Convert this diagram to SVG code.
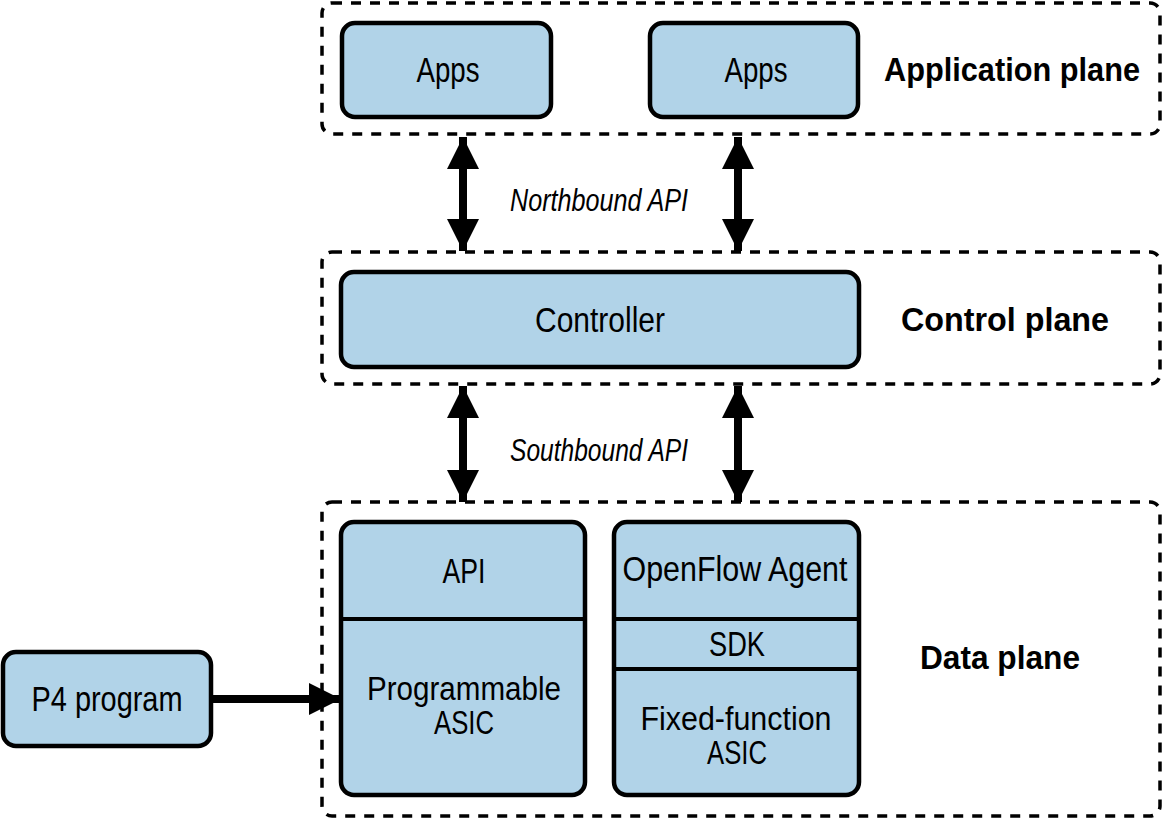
<svg xmlns="http://www.w3.org/2000/svg" width="1164" height="820" viewBox="0 0 1164 820">
<style>
.plane{fill:none;stroke:#000;stroke-width:3.5;stroke-dasharray:10 9}
.box{fill:#b1d3e8;stroke:#000;stroke-width:4.5}
.div{stroke:#000;stroke-width:4}
.t{font-family:"Liberation Sans",Arial,sans-serif;font-size:35px;fill:#000;text-anchor:middle}
.m{font-size:33.5px}
.b{font-family:"Liberation Sans",Arial,sans-serif;font-size:34px;font-weight:bold;fill:#000;text-anchor:middle}
.i{font-family:"Liberation Sans",Arial,sans-serif;font-size:32px;font-style:italic;fill:#000;text-anchor:middle}
.shaft{stroke:#000;stroke-width:8}
</style>
<defs>
<marker id="ah" viewBox="0 0 10 10" refX="10" refY="5" markerWidth="4" markerHeight="4.25" orient="auto-start-reverse" markerUnits="strokeWidth">
<path d="M0,0 L10,5 L0,10 Z" fill="#000"/>
</marker>
</defs>
<g id="application-plane">
<rect class="plane" x="322" y="3" width="838" height="131" rx="10"/>
<text class="b" x="1012" y="81" textLength="256" lengthAdjust="spacingAndGlyphs">Application plane</text>
</g>
<g id="apps1">
<rect class="box" x="342" y="23" width="209" height="94" rx="13"/>
<text class="t" x="448" y="82" textLength="63" lengthAdjust="spacingAndGlyphs">Apps</text>
</g>
<g id="apps2">
<rect class="box" x="650" y="23" width="208" height="94" rx="13"/>
<text class="t" x="756" y="82" textLength="63" lengthAdjust="spacingAndGlyphs">Apps</text>
</g>
<g id="control-plane">
<rect class="plane" x="322" y="252" width="838" height="132" rx="10"/>
<text class="b" x="1005" y="331" textLength="208" lengthAdjust="spacingAndGlyphs">Control plane</text>
</g>
<g id="controller">
<rect class="box" x="341" y="272" width="518" height="95" rx="13"/>
<text class="t" x="600" y="332" textLength="130" lengthAdjust="spacingAndGlyphs">Controller</text>
</g>
<g id="data-plane">
<rect class="plane" x="322" y="502" width="838" height="314" rx="10"/>
<text class="b" x="1000" y="669" textLength="160" lengthAdjust="spacingAndGlyphs">Data plane</text>
</g>
<g id="programmable-asic">
<rect class="box" x="341" y="522" width="244" height="273" rx="13"/>
<line class="div" x1="343" y1="619" x2="583" y2="619"/>
<text class="t" x="464" y="583" textLength="43" lengthAdjust="spacingAndGlyphs">API</text>
<text class="t m" x="464" y="700" textLength="194" lengthAdjust="spacingAndGlyphs">Programmable</text>
<text class="t m" x="464" y="734" textLength="60" lengthAdjust="spacingAndGlyphs">ASIC</text>
</g>
<g id="fixed-function-asic">
<rect class="box" x="614" y="522" width="245" height="273" rx="13"/>
<line class="div" x1="616" y1="619" x2="857" y2="619"/>
<line class="div" x1="616" y1="669" x2="857" y2="669"/>
<text class="t" x="735" y="581" textLength="225" lengthAdjust="spacingAndGlyphs">OpenFlow Agent</text>
<text class="t" x="737" y="656" textLength="56" lengthAdjust="spacingAndGlyphs">SDK</text>
<text class="t m" x="736" y="730" textLength="191" lengthAdjust="spacingAndGlyphs">Fixed-function</text>
<text class="t m" x="737" y="764" textLength="60" lengthAdjust="spacingAndGlyphs">ASIC</text>
</g>
<g id="p4-program">
<rect class="box" x="3" y="652" width="208" height="94" rx="13"/>
<text class="t" x="107" y="711" textLength="151" lengthAdjust="spacingAndGlyphs">P4 program</text>
</g>
<g id="connectors">
<line class="shaft" x1="463" y1="137" x2="463" y2="251" marker-start="url(#ah)" marker-end="url(#ah)"/>
<line class="shaft" x1="738" y1="137" x2="738" y2="251" marker-start="url(#ah)" marker-end="url(#ah)"/>
<line class="shaft" x1="463" y1="386" x2="463" y2="502" marker-start="url(#ah)" marker-end="url(#ah)"/>
<line class="shaft" x1="738" y1="386" x2="738" y2="502" marker-start="url(#ah)" marker-end="url(#ah)"/>
<line class="shaft" x1="211" y1="699" x2="341" y2="699" marker-end="url(#ah)"/>
<text class="i" x="599" y="211" textLength="178" lengthAdjust="spacingAndGlyphs">Northbound API</text>
<text class="i" x="599" y="461" textLength="178" lengthAdjust="spacingAndGlyphs">Southbound API</text>
</g>
</svg>
